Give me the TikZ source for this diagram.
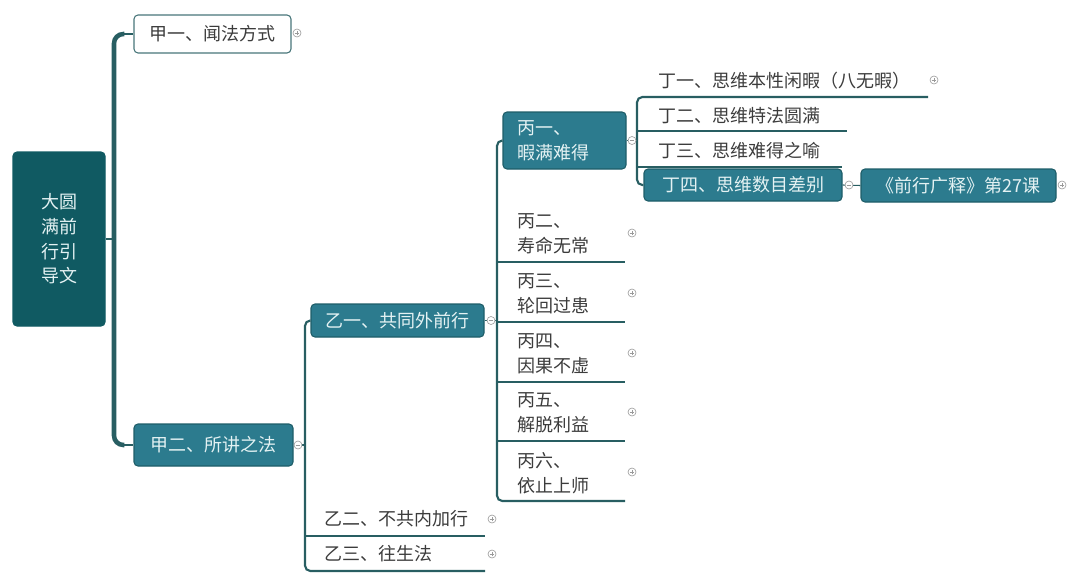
\documentclass[tikz,border=0pt]{standalone}
\usepackage{fontspec}
\setmainfont{Noto Sans CJK SC}
\usetikzlibrary{positioning, calc}
\definecolor{croot}{HTML}{105A62}
\definecolor{cbox}{HTML}{2C7B8E}
\definecolor{cedge}{HTML}{1E5D68}
\definecolor{cline}{HTML}{285E62}
\definecolor{clight}{HTML}{E4F2F3}
\definecolor{ctext}{HTML}{3C3C3C}
\definecolor{cicon}{HTML}{9A9A9A}
\tikzset{
  every picture/.style={font=\fontsize{13.5pt}{18.5pt}\selectfont},
  topic/.style={draw=cedge, fill=cbox, text=clight, rounded corners=3pt, line width=0.8pt, inner sep=0pt, align=center},
  rootbox/.style={topic, draw=croot, fill=croot},
  plainbox/.style={draw=cline!85, fill=white, text=ctext, rounded corners=3pt, line width=0.8pt, inner sep=0pt},
  leaf/.style={text=ctext, inner sep=0pt, anchor=west, align=left},
  trunk/.style={draw=cline, line width=3.4pt, rounded corners=7pt},
  bus/.style={draw=cline, line width=1.6pt, rounded corners=4pt},
  link/.style={draw=cline, line width=0.8pt},
  iconbase/.style={circle, draw=cicon, fill=white, line width=0.45pt, minimum size=6pt, inner sep=0pt},
  plusicon/.style={iconbase, path picture={
    \draw[cicon, line width=0.45pt] ($(path picture bounding box.center)+(-1.7pt,0pt)$) -- ++(3.4pt,0pt)
      ($(path picture bounding box.center)+(0pt,-1.7pt)$) -- ++(0pt,3.4pt);}},
  minusicon/.style={iconbase, path picture={
    \draw[cicon, line width=0.45pt] ($(path picture bounding box.center)+(-1.7pt,0pt)$) -- ++(3.4pt,0pt);}},
}

\begin{document}
\begin{tikzpicture}[x=0.75pt, y=-0.75pt]
  \useasboundingbox (0,0) rectangle (1080,585);
  % topics
  \node[rootbox, minimum width=69pt, minimum height=130.5pt] (root) at (59,239) {大圆\\满前\\行引\\导文};
  \node[plainbox, minimum width=117.75pt, minimum height=28.5pt] (jia1) at (212.5,34) {甲一、闻法方式};
  \node[topic, minimum width=119.25pt, minimum height=31.5pt] (jia2) at (213.5,445) {甲二、所讲之法};
  \node[topic, minimum width=129.75pt, minimum height=24.75pt] (yi1) at (397.5,320.5) {乙一、共同外前行};
  \node[leaf] (yi2) at (324,519) {乙二、不共内加行};
  \node[leaf] (yi3) at (324,554) {乙三、往生法};
  \node[topic, text width=71.25pt, align=left, inner xsep=10.5pt, minimum height=42.75pt] (bing1) at (564.5,140.5) {丙一、\\暇满难得};
  \node[leaf] (bing2) at (517,234) {丙二、\\寿命无常};
  \node[leaf] (bing3) at (517,294) {丙三、\\轮回过患};
  \node[leaf] (bing4) at (517,354) {丙四、\\因果不虚};
  \node[leaf] (bing5) at (517,413) {丙五、\\解脱利益};
  \node[leaf] (bing6) at (517,473) {丙六、\\依止上师};
  \node[leaf] (ding1) at (658,81) {丁一、思维本性闲暇（八无暇）};
  \node[leaf] (ding2) at (658,116) {丁二、思维特法圆满};
  \node[leaf] (ding3) at (658,151) {丁三、思维难得之喻};
  \node[topic, minimum width=148.5pt, minimum height=24pt] (ding4) at (743,185) {丁四、思维数目差别};
  \node[topic, minimum width=146.25pt, minimum height=24.75pt] (lesson) at (958.5,185.5) {《前行广释》第27课};

  % bus lines and underline ends
  \coordinate (trunkx) at (114,0);
  \coordinate (bus2) at (305,0);
  \coordinate (bus3) at (497,0);
  \coordinate (bus4) at (637,0);
  \coordinate (uyi2) at (485,536);
  \coordinate (uyi3) at (485,571);
  \foreach \k/\y in {2/262, 3/322, 4/382, 5/441, 6/501}
    \coordinate (ubing\k) at (625,\y);
  \coordinate (uding1) at (928,97);
  \coordinate (uding2) at (847,131);
  \coordinate (uding3) at (842,167);

  \draw[link] (root.east) -- (trunkx |- root.east);
  \draw[trunk] ($(jia1.west)+(-9,0)$) -- (trunkx |- jia1.west) -- (trunkx |- jia2.west) -- ($(jia2.west)+(-9,0)$);
  \draw[link] ($(jia1.west)+(-10,0)$) -- (jia1.west);
  \draw[link] ($(jia2.west)+(-10,0)$) -- (jia2.west);

  \draw[link] (jia2.east) -- (bus2 |- jia2.east);
  \draw[bus] (yi1.west) -- (bus2 |- yi1.west) |- (uyi3);
  \draw[bus] (bus2 |- uyi2) -- (uyi2);

  \draw[link] (yi1.east) -- (bus3 |- yi1.east);
  \draw[bus] (bing1.west) -- (bus3 |- bing1.west) |- (ubing6);
  \foreach \k in {2,...,5}
    \draw[bus] (bus3 |- ubing\k) -- (ubing\k);

  \draw[link] (bing1.east) -- (bus4 |- bing1.east);
  \draw[bus] (uding1) -- (bus4 |- uding1) |- (ding4.west);
  \draw[bus] (bus4 |- uding2) -- (uding2);
  \draw[bus] (bus4 |- uding3) -- (uding3);
  \draw[link] (ding4.east) -- (lesson.west);

  % fold icons
  \foreach \p [count=\i] in {(297,33), (492,519), (492,554), (632,233), (632,293), (632,353), (632,412), (632,472), (934,80), (1062,185)}
    \node[plusicon] (plus\i) at \p {};
  \foreach \p [count=\i] in {(298,445), (491,320.5), (632,140.5), (849,185)}
    \node[minusicon] (minus\i) at \p {};
\end{tikzpicture}
\end{document}
